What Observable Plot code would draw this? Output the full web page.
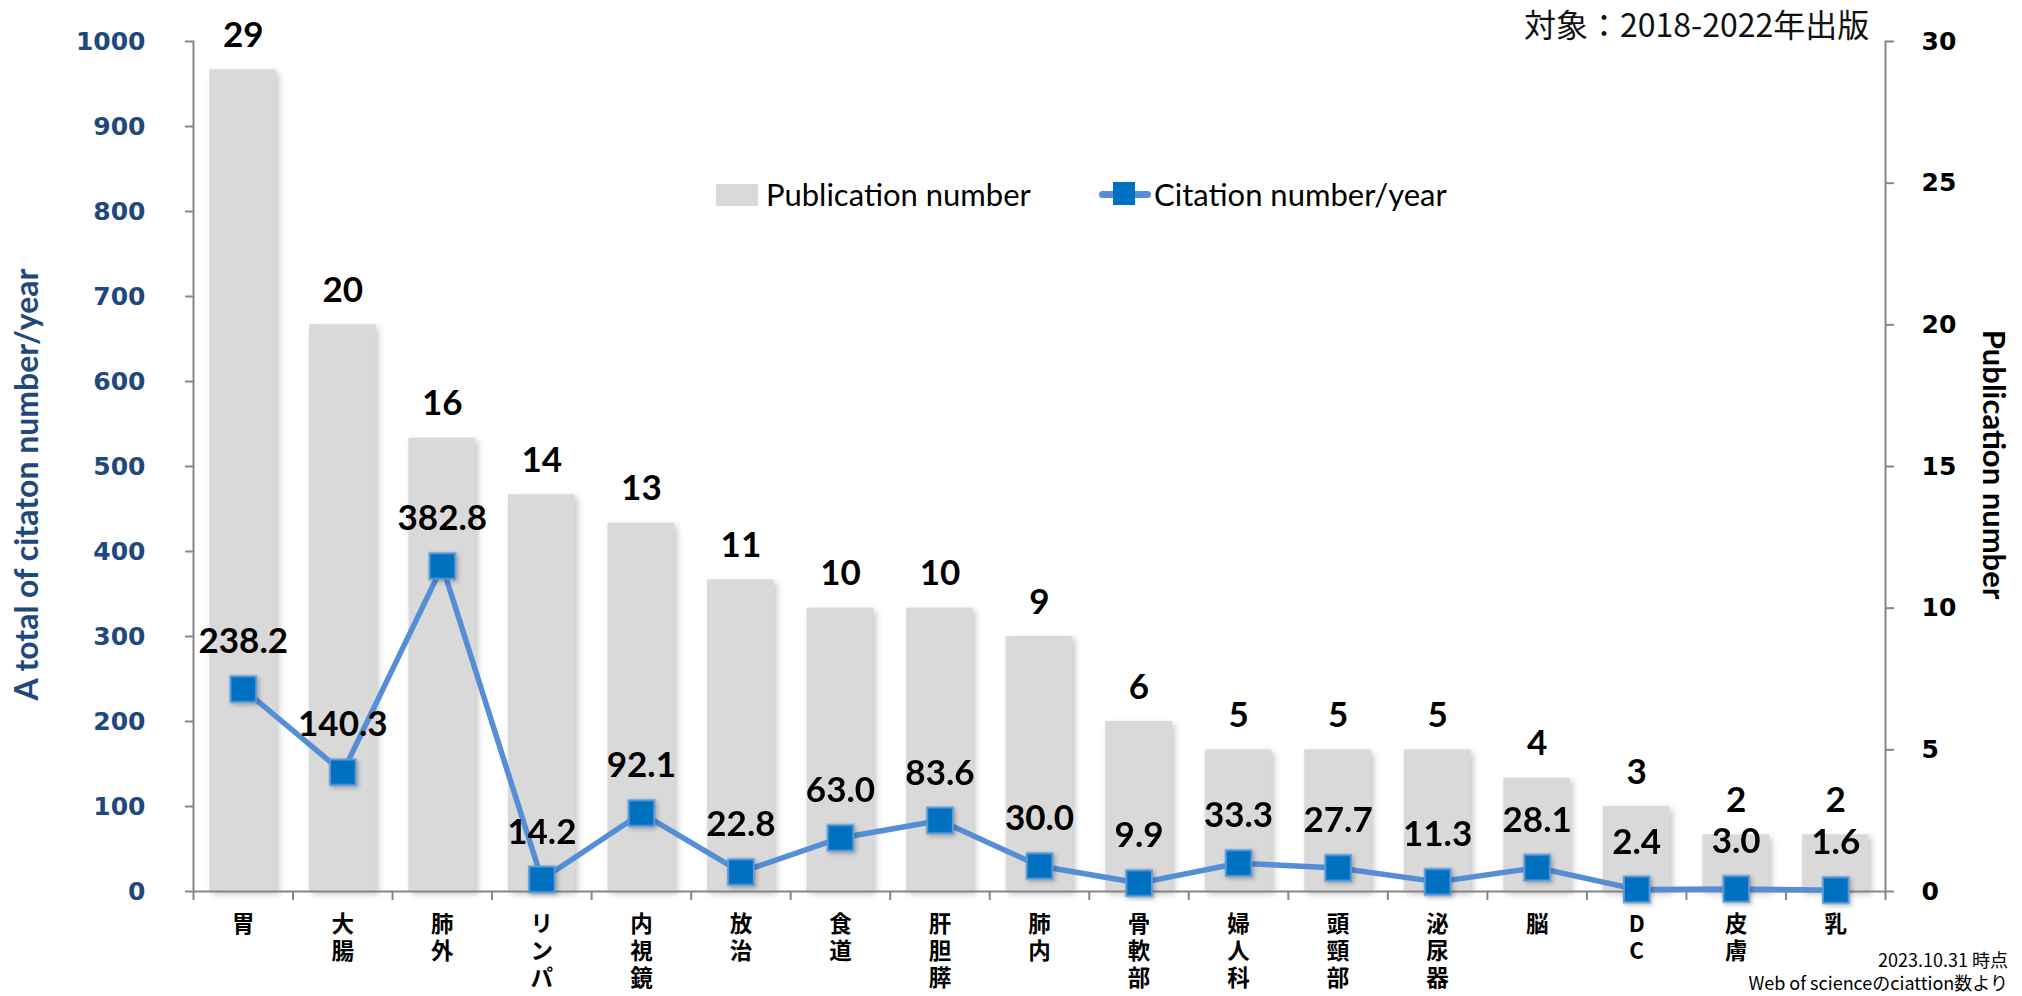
<!DOCTYPE html>
<html><head><meta charset="utf-8">
<script src="https://cdn.jsdelivr.net/npm/d3@7"></script>
<script src="https://cdn.jsdelivr.net/npm/@observablehq/plot@0.6"></script>
<style>
body{margin:0;background:#fff;}
#wrap{position:relative;width:2022px;height:996px;overflow:hidden;background:#fff;}
.ov{position:absolute;white-space:nowrap;line-height:1.25;}
</style></head><body>
<div id="wrap"></div>
<script>
const categories = ["胃","大腸","肺外","リンパ","内視鏡","放治","食道","肝胆膵","肺内","骨軟部","婦人科","頭頸部","泌尿器","脳","DC","皮膚","乳"];
const publications = [29,20,16,14,13,11,10,10,9,6,5,5,5,4,3,2,2];
const citations = [238.2,140.3,382.8,14.2,92.1,22.8,63.0,83.6,30.0,9.9,33.3,27.7,11.3,28.1,2.4,3.0,1.6];
const leftTicks = [0,100,200,300,400,500,600,700,800,900,1000];
const rightTicks = [0,5,10,15,20,25,30];
const citMax = 1000, pubMax = 30;
const titleText = "対象：2018-2022年出版";
const leftTitle = "A total of citaton number/year";
const rightTitle = "Publication number";
const legendPub = "Publication number";
const legendCit = "Citation number/year";
const caption1 = "2023.10.31 時点";
const caption2 = "Web of scienceのciattion数より";

const data = categories.map((c, i) => ({cat: c, pub: publications[i], cit: citations[i], pubY: publications[i] * citMax / pubMax}));

const W = 2022, H = 996, mL = 193, mR = 137, mT = 41, mB = 105;
const step = (W - mL - mR) / categories.length;
const axisGray = "#868686";
const blue = "#1F497D";
const lab = "Lato, 'Open Sans', sans-serif";

const chart = Plot.plot({
  width: W, height: H, marginLeft: mL, marginRight: mR, marginTop: mT, marginBottom: mB,
  style: {background: "transparent", overflow: "visible"},
  x: {domain: categories, paddingInner: 0.33, paddingOuter: 0.165, round: false, axis: null},
  y: {domain: [0, citMax], axis: null},
  marks: [
    Plot.barY(data, {x: "cat", y: "pubY", fill: "#D9D9D9"}),
    Plot.ruleY([0], {stroke: axisGray, strokeWidth: 2}),
    Plot.frame({anchor: "left", stroke: axisGray, strokeWidth: 2}),
    Plot.frame({anchor: "right", stroke: axisGray, strokeWidth: 2}),
    // x boundary ticks
    Plot.axisX({tickSize: 9, tickFormat: () => "", dx: -step / 2, stroke: axisGray, strokeWidth: 2, label: null}),
    Plot.axisX([categories[categories.length - 1]], {tickSize: 9, tickFormat: () => "", dx: step / 2, stroke: axisGray, strokeWidth: 2, label: null}),
    // x labels (vertical stacking)
    Plot.axisX({tickSize: 0, tickPadding: 21, tickFormat: d => [...d].join("\n"), lineHeight: 1.2, lineAnchor: "top",
      fontSize: 22.5, fontWeight: "bold", fontFamily: "'Noto Sans CJK JP', sans-serif", fill: "#000", label: null}),
    // left axis
    Plot.axisY(leftTicks, {anchor: "left", tickSize: 8, tickFormat: () => "", stroke: axisGray, strokeWidth: 2, label: null}),
    Plot.axisY(leftTicks, {anchor: "left", tickSize: 0, tickPadding: 48, tickFormat: d => String(d), fontSize: 25, fontWeight: "bold",
      fontFamily: "'DejaVu Sans', Verdana, sans-serif", fill: blue, label: null}),
    // right axis
    Plot.axisY(rightTicks.map(v => v * citMax / pubMax), {anchor: "right", tickSize: 8, tickFormat: () => "", stroke: axisGray, strokeWidth: 2, label: null}),
    Plot.axisY(rightTicks.map(v => v * citMax / pubMax), {anchor: "right", tickSize: 0, tickPadding: 36,
      tickFormat: d => String(Math.round(d * pubMax / citMax)), fontSize: 25, fontWeight: "bold",
      fontFamily: "'DejaVu Sans', Verdana, sans-serif", fill: "#000", label: null}),
    // axis titles
    Plot.text([leftTitle], {frameAnchor: "left", textAnchor: "middle", dx: -166, dy: 18, rotate: -90, fontSize: 32, fontWeight: "bold",
      fontFamily: lab, fill: blue, text: d => d}),
    Plot.text([rightTitle], {frameAnchor: "right", textAnchor: "middle", dx: 107, dy: -2, rotate: 90, fontSize: 31, fontWeight: "bold",
      fontFamily: lab, fill: "#000", text: d => d}),
    // publication labels
    Plot.text(data, {x: "cat", y: "pubY", text: d => String(d.pub), dy: -34, fontSize: 35, fontWeight: "bold",
      fontFamily: lab, fill: "#000"}),
    // citation line
    Plot.line(data, {x: "cat", y: "cit", stroke: "#558ED5", strokeWidth: 5.5, strokeLinejoin: "round"}),
    Plot.dot(data, {x: "cat", y: "cit", symbol: "square", r: 14.5, fill: "#0070C0", stroke: "#5E9BDB", strokeWidth: 2}),
    Plot.text(data, {x: "cat", y: "cit", text: d => d.cit.toFixed(1), dy: -47, fontSize: 35, fontWeight: "bold",
      fontFamily: lab, fill: "#000"})
  ]
});

const wrap = document.getElementById("wrap");
wrap.appendChild(chart);
chart.style.position = "absolute"; chart.style.left = "0"; chart.style.top = "0";
chart.querySelectorAll('g[aria-label="bar"]').forEach(g => g.style.filter = "drop-shadow(3px 3px 3px rgba(0,0,0,0.22))");
chart.querySelectorAll('g[aria-label="dot"]').forEach(g => g.style.filter = "drop-shadow(2px 2px 2px rgba(0,0,0,0.25))");

function ov(html, css) {
  const d = document.createElement("div");
  d.className = "ov"; d.innerHTML = html;
  Object.assign(d.style, css);
  wrap.appendChild(d);
  return d;
}
ov(titleText, {left: "1524px", top: "3px", fontSize: "32px", fontFamily: "'Noto Sans CJK JP', sans-serif", color: "#111"});
// legend
ov("", {left: "716px", top: "184px", width: "42px", height: "22px", background: "#D9D9D9"});
ov(legendPub, {left: "766px", top: "175px", fontSize: "31px", fontFamily: lab, color: "#000"});
ov("", {left: "1099px", top: "191px", width: "52px", height: "7px", background: "#558ED5", borderRadius: "4px"});
ov("", {left: "1113px", top: "182px", width: "22px", height: "23px", background: "#0070C0"});
ov(legendCit, {left: "1154px", top: "175px", fontSize: "31px", fontFamily: lab, color: "#000"});
// captions
ov(caption1, {right: "14px", top: "948px", fontSize: "18px", fontFamily: "'Noto Sans CJK JP', sans-serif", color: "#000"});
ov(caption2, {right: "14px", top: "971px", fontSize: "18px", fontFamily: "'Noto Sans CJK JP', sans-serif", color: "#000"});
</script>
</body></html>
